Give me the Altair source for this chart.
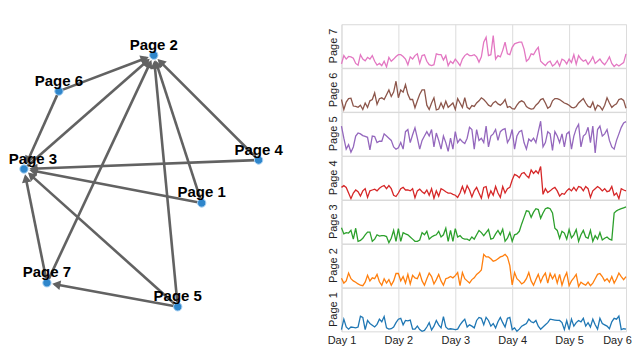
import math
import altair as alt
import pandas as pd

# ---------------- time-series data (values relative to each panel, 0..1) -------------
pages = ["Page 1", "Page 2", "Page 3", "Page 4", "Page 5", "Page 6", "Page 7"]
colors = ["#1f77b4", "#ff7f0e", "#2ca02c", "#d62728", "#9467bd", "#8c564b", "#e377c2"]
day_labels = ["Day 1", "Day 2", "Day 3", "Day 4", "Day 5", "Day 6"]
hours_per_day = 24

page1 = ([0.04,0.28,0.1,0.05,0.1,0.09,0.08,0.1,0.35,0.32,0.04,0.25,0.18,0.14,0.1,0.16,0.28,0.22,0.34,0.08,0.05,0.06,0.1,0.2]
         + [0.28,0.3,0.15,0.25,0.24,0.26,0.05,0.05,0.12,0.04,0.0,0.02,0.1,0.2,0.03,0.12,0.25,0.15,0.08,0.34,0.1,0.05,0.06,0.05]
         + [0.04,0.05,0.15,0.22,0.28,0.1,0.15,0.12,0.08,0.25,0.32,0.3,0.15,0.32,0.25,0.12,0.18,0.08,0.22,0.32,0.2,0.1,0.3,0.32]
         + [0.04,0.08,0.0,0.05,0.12,0.15,0.18,0.28,0.22,0.2,0.25,0.12,0.05,0.1,0.15,0.2,0.28,0.27,0.26,0.25,0.25,0.2,0.04,0.25]
         + [0.04,0.28,0.12,0.2,0.25,0.22,0.3,0.12,0.2,0.1,0.28,0.15,0.05,0.3,0.18,0.15,0.12,0.06,0.22,0.3,0.28,0.35,0.04,0.06]
         + [0.05])
page2 = ([0.21,0.1,0.15,0.33,0.2,0.15,0.12,0.08,0.05,0.04,0.12,0.28,0.15,0.22,0.2,0.3,0.13,0.05,0.2,0.1,0.18,0.05,0.15,0.32]
         + [0.32,0.15,0.25,0.1,0.3,0.08,0.28,0.22,0.2,0.33,0.15,0.05,0.2,0.33,0.25,0.08,0.18,0.3,0.15,0.05,0.2,0.22,0.25,0.22]
         + [0.27,0.34,0.04,0.34,0.2,0.15,0.1,0.18,0.22,0.3,0.34,0.4,0.76,0.7,0.7,0.66,0.6,0.62,0.66,0.7,0.72,0.76,0.7,0.5]
         + [0.06,0.34,0.2,0.15,0.08,0.12,0.2,0.34,0.15,0.05,0.18,0.3,0.12,0.25,0.33,0.1,0.32,0.2,0.3,0.1,0.3,0.05,0.22,0.34]
         + [0.04,0.15,0.22,0.3,0.02,0.12,0.08,0.05,0.12,0.04,0.1,0.2,0.3,0.32,0.25,0.15,0.2,0.12,0.25,0.1,0.2,0.33,0.25,0.18]
         + [0.25])
page3 = ([0.36,0.22,0.25,0.24,0.3,0.1,0.35,0.05,0.07,0.12,0.2,0.26,0.26,0.05,0.1,0.2,0.17,0.18,0.18,0.16,0.02,0.12,0.3,0.05]
         + [0.34,0.05,0.25,0.22,0.2,0.15,0.1,0.05,0.05,0.08,0.25,0.2,0.28,0.1,0.15,0.18,0.2,0.28,0.15,0.2,0.35,0.05,0.3,0.05]
         + [0.34,0.15,0.18,0.12,0.1,0.1,0.07,0.15,0.1,0.2,0.3,0.25,0.18,0.25,0.32,0.1,0.12,0.22,0.3,0.2,0.33,0.05,0.12,0.25]
         + [0.05,0.2,0.22,0.28,0.45,0.6,0.75,0.74,0.6,0.72,0.8,0.78,0.58,0.7,0.8,0.82,0.8,0.7,0.35,0.3,0.12,0.28,0.24,0.1]
         + [0.32,0.13,0.2,0.32,0.05,0.2,0.3,0.15,0.12,0.3,0.05,0.18,0.1,0.25,0.08,0.12,0.15,0.1,0.08,0.7,0.75,0.78,0.8,0.82]
         + [0.84])
page4 = ([0.28,0.32,0.28,0.15,0.02,0.15,0.22,0.18,0.08,0.2,0.25,0.05,0.2,0.22,0.24,0.2,0.26,0.3,0.32,0.25,0.32,0.25,0.1,0.07]
         + [0.15,0.25,0.28,0.22,0.22,0.2,0.25,0.04,0.2,0.24,0.18,0.14,0.22,0.1,0.25,0.03,0.2,0.08,0.25,0.22,0.18,0.15,0.15,0.12]
         + [0.1,0.05,0.15,0.3,0.15,0.32,0.22,0.06,0.2,0.28,0.15,0.03,0.28,0.3,0.05,0.2,0.1,0.3,0.15,0.05,0.3,0.15,0.25,0.28]
         + [0.45,0.58,0.55,0.5,0.6,0.62,0.55,0.5,0.68,0.6,0.66,0.6,0.76,0.12,0.25,0.16,0.2,0.25,0.28,0.2,0.08,0.14,0.12,0.2]
         + [0.25,0.2,0.28,0.2,0.3,0.28,0.2,0.3,0.25,0.05,0.2,0.25,0.3,0.26,0.2,0.25,0.18,0.2,0.3,0.1,0.15,0.02,0.25,0.22]
         + [0.2])
page5 = ([0.68,0.4,0.15,0.25,0.08,0.2,0.45,0.52,0.5,0.46,0.44,0.42,0.13,0.45,0.44,0.3,0.33,0.33,0.5,0.45,0.4,0.35,0.2,0.15]
         + [0.18,0.3,0.15,0.55,0.6,0.3,0.48,0.64,0.4,0.15,0.35,0.45,0.55,0.45,0.6,0.2,0.52,0.35,0.15,0.45,0.3,0.1,0.4,0.15]
         + [0.55,0.3,0.38,0.32,0.28,0.4,0.65,0.6,0.15,0.6,0.35,0.4,0.3,0.68,0.2,0.45,0.5,0.6,0.35,0.55,0.6,0.62,0.3,0.4]
         + [0.6,0.15,0.45,0.55,0.58,0.3,0.15,0.38,0.33,0.4,0.3,0.55,0.79,0.2,0.3,0.55,0.5,0.12,0.55,0.45,0.3,0.5,0.2,0.5]
         + [0.55,0.15,0.45,0.62,0.72,0.2,0.45,0.5,0.65,0.3,0.68,0.06,0.6,0.68,0.45,0.5,0.6,0.35,0.2,0.15,0.35,0.5,0.65,0.75]
         + [0.78])
page6 = ([0.28,0.05,0.22,0.3,0.31,0.13,0.12,0.1,0.15,0.05,0.2,0.1,0.25,0.28,0.43,0.17,0.3,0.32,0.28,0.39,0.5,0.35,0.45,0.7]
         + [0.32,0.5,0.45,0.62,0.4,0.28,0.28,0.09,0.25,0.4,0.5,0.5,0.15,0.05,0.2,0.32,0.04,0.06,0.2,0.08,0.24,0.1,0.15,0.2]
         + [0.05,0.3,0.2,0.1,0.32,0.1,0.06,0.14,0.12,0.2,0.25,0.32,0.28,0.22,0.15,0.12,0.2,0.24,0.18,0.15,0.2,0.28,0.1,0.12]
         + [0.07,0.06,0.15,0.22,0.25,0.22,0.12,0.08,0.06,0.07,0.15,0.2,0.28,0.3,0.2,0.08,0.12,0.25,0.3,0.3,0.28,0.24,0.2,0.18]
         + [0.15,0.1,0.09,0.12,0.2,0.25,0.3,0.2,0.12,0.1,0.22,0.04,0.15,0.12,0.04,0.15,0.32,0.2,0.1,0.15,0.18,0.28,0.3,0.26]
         + [0.08])
page7 = ([0.09,0.28,0.2,0.26,0.25,0.22,0.1,0.06,0.3,0.2,0.16,0.24,0.2,0.28,0.15,0.06,0.1,0.05,0.15,0.02,0.24,0.15,0.2,0.26]
         + [0.3,0.3,0.26,0.2,0.07,0.25,0.2,0.28,0.32,0.1,0.28,0.3,0.15,0.07,0.05,0.07,0.32,0.3,0.3,0.18,0.28,0.05,0.15,0.1]
         + [0.2,0.13,0.05,0.2,0.28,0.32,0.28,0.28,0.3,0.25,0.13,0.25,0.59,0.7,0.28,0.3,0.74,0.2,0.28,0.25,0.4,0.59,0.32,0.3]
         + [0.47,0.55,0.57,0.59,0.59,0.43,0.15,0.2,0.32,0.3,0.4,0.47,0.15,0.1,0.05,0.12,0.15,0.04,0.08,0.16,0.04,0.2,0.17,0.09]
         + [0.2,0.12,0.3,0.08,0.28,0.2,0.15,0.18,0.08,0.15,0.25,0.1,0.15,0.2,0.12,0.07,0.15,0.25,0.1,0.03,0.08,0.04,0.08,0.12]
         + [0.32])

series = [page1, page2, page3, page4, page5, page6, page7]

# ---------------- network data ----------------
node_names = ["Page 1", "Page 2", "Page 3", "Page 4", "Page 5", "Page 6", "Page 7"]
node_x = [202, 154, 24, 259, 178, 59, 47]
node_y = [203, 55, 169, 160, 307, 91, 283]

edge_src = ["Page 6", "Page 3", "Page 7", "Page 5", "Page 1", "Page 4",
            "Page 6", "Page 4", "Page 1", "Page 5", "Page 7", "Page 5"]
edge_dst = ["Page 2", "Page 2", "Page 2", "Page 2", "Page 2", "Page 2",
            "Page 3", "Page 3", "Page 3", "Page 3", "Page 3", "Page 7"]

# ---------------- build tables ----------------
rows = []
for name, vals in zip(pages, series):
    for h, v in enumerate(vals):
        rows.append({"page": name, "hour": h, "value": v})
ts = pd.DataFrame(rows)

X0, X1, Y0, Y1 = 8, 308, 24, 329
pos = {n: (x, y) for n, x, y in zip(node_names, node_x, node_y)}
node_r = 5.0
erows, arows = [], []
for s, d in zip(edge_src, edge_dst):
    sx, sy = pos[s]
    dx, dy = pos[d]
    L = math.hypot(dx - sx, dy - sy)
    ux, uy = (dx - sx) / L, (dy - sy) / L
    erows.append({"x": sx, "y": sy, "x2": dx - ux * (node_r + 3), "y2": dy - uy * (node_r + 3)})
    ang = math.degrees(math.atan2(ux, -uy)) % 360
    arows.append({"x": dx - ux * (node_r + 4.5), "y": dy - uy * (node_r + 4.5), "angle": ang})
edges_df = pd.DataFrame(erows)
arrows_df = pd.DataFrame(arows)
nodes_df = pd.DataFrame({"name": node_names, "x": node_x, "y": node_y})
# keep label text inside the drawing area (left edge)
nodes_df["lx"] = [max(x, X0 + 25) for x in node_x]

# ---------------- network chart ----------------
xs = alt.Scale(domain=[X0, X1], nice=False, zero=False)
ys = alt.Scale(domain=[Y0, Y1], nice=False, zero=False, reverse=True)
edge_col = "#626262"

edges = alt.Chart(edges_df).mark_rule(color=edge_col, strokeWidth=2.6).encode(
    x=alt.X("x:Q", scale=xs, axis=None),
    y=alt.Y("y:Q", scale=ys, axis=None),
    x2="x2:Q", y2="y2:Q")
arrows = alt.Chart(arrows_df).mark_point(shape="triangle-up", filled=True, color=edge_col,
                                          size=90, opacity=1).encode(
    x=alt.X("x:Q", scale=xs, axis=None),
    y=alt.Y("y:Q", scale=ys, axis=None),
    angle=alt.Angle("angle:Q", scale=None))
nodes = alt.Chart(nodes_df).mark_circle(size=70, color="#2f86cb", stroke="#a9d1f2",
                                        strokeWidth=1, opacity=1).encode(
    x=alt.X("x:Q", scale=xs, axis=None),
    y=alt.Y("y:Q", scale=ys, axis=None))
labels = alt.Chart(nodes_df).mark_text(fontWeight="bold", fontSize=15, font="Liberation Sans",
                                       baseline="alphabetic", dy=-5.5, color="#000000").encode(
    x=alt.X("lx:Q", scale=xs, axis=None),
    y=alt.Y("y:Q", scale=ys, axis=None),
    text="name:N")

network = alt.layer(edges, arrows, nodes, labels).properties(
    width=X1 - X0, height=Y1 - Y0, view=alt.ViewBackground(strokeOpacity=0))

# ---------------- facet time series ----------------
PW, PH = 285, 43.6
label_expr = "[" + ",".join("'%s'" % d for d in day_labels) + "][round(datum.value/%d)]" % hours_per_day
base = alt.Chart().properties(width=PW, height=PH)
lines = base.mark_line(strokeWidth=1.3).encode(
    x=alt.X("hour:Q", scale=alt.Scale(domain=[0, 120], nice=False),
            axis=alt.Axis(values=[0, 24, 48, 72, 96, 120], labelExpr=label_expr, title=None,
                          grid=True, gridColor="#dcdcdc", ticks=False, domain=False,
                          labelFontSize=11, labelColor="#222222", labelPadding=3,
                          labelOffset={"condition": {"test": "datum.value == 120", "value": -9}, "value": 0},
                          labelFlush=False, labelOverlap=False, labelBound=False)),
    y=alt.Y("value:Q", scale=alt.Scale(domain=[0, 1], nice=False), axis=None),
    color=alt.Color("page:N", scale=alt.Scale(domain=pages, range=colors), legend=None),
)
row_labels = base.mark_text(angle=270, fontSize=11, font="Liberation Sans", color="#222222",
                            align="center", baseline="middle").encode(
    x=alt.value(-7.5), y=alt.value(PH / 2), text="page:N"
).transform_filter("datum.hour == 0")

facet = alt.layer(lines, row_labels, data=ts).facet(
    row=alt.Row("page:N", sort=list(reversed(pages)), title=None,
                header=alt.Header(labels=False, title=None)),
    spacing=0, bounds="flush")

chart = alt.hconcat(network, facet, spacing=19).properties(
    padding={"left": 0, "top": 15, "right": 0, "bottom": 0}
).configure_view(stroke="#d9d9d9").configure_axis(labelFont="Liberation Sans").configure_facet(spacing=0)

chart.save("out.html", embed_options={"renderer": "svg", "actions": False})
